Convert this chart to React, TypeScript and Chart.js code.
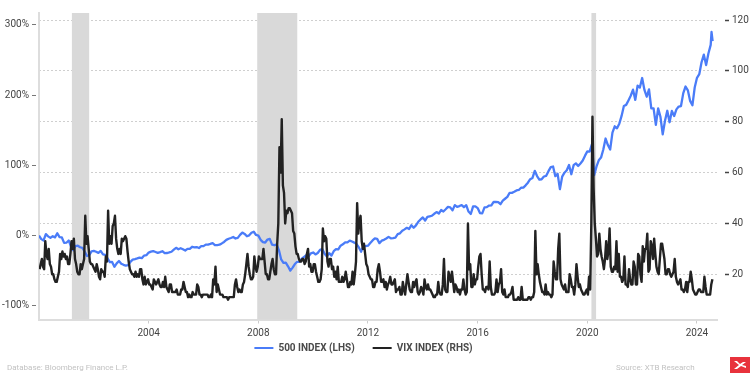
import React, { useEffect, useRef } from "react";
import { Chart, registerables } from "chart.js";

Chart.register(...registerables);

// ---------- axes / annotations ----------
const xTicks = [2004, 2008, 2012, 2016, 2020, 2024];
const leftTicks = [-100, 0, 100, 200, 300];
const rightTicks = [20, 40, 60, 80, 100, 120];
const recessionStart = [2001.2, 2007.96, 2020.15];
const recessionEnd = [2001.83, 2009.42, 2020.32];

const spxLabel = "500 INDEX (LHS)";
const vixLabel = "VIX INDEX (RHS)";

// ---------- 500 INDEX, % change since start of 2000 (month ends) ----------
const spxStartDate = 2000.0;
const spxStartValue = 0;
const spxYears = [2000, 2001, 2002, 2003, 2004, 2005, 2006, 2007, 2008, 2009, 2010, 2011, 2012, 2013, 2014, 2015, 2016, 2017, 2018, 2019, 2020, 2021, 2022, 2023, 2024];
const spx2000 = [-5.1, -7.0, 2.0, -1.2, -3.3, -1.0, -2.6, 3.3, -2.2, -2.7, -10.5, -10.2];
const spx2001 = [-7.0, -15.6, -21.0, -15.0, -14.5, -16.7, -17.6, -22.8, -29.1, -27.9, -22.5, -21.9];
const spx2002 = [-23.1, -24.7, -21.9, -26.8, -27.4, -32.6, -37.9, -37.7, -44.5, -39.7, -36.3, -40.1];
const spx2003 = [-41.7, -42.8, -42.3, -37.6, -34.4, -33.6, -32.6, -31.4, -32.2, -28.5, -28.0, -24.3];
const spx2004 = [-23.0, -22.1, -23.4, -24.7, -23.7, -22.3, -25.0, -24.9, -24.1, -23.1, -20.1, -17.5];
const spx2005 = [-19.6, -18.1, -19.6, -21.3, -18.9, -18.9, -16.0, -17.0, -16.4, -17.8, -15.0, -15.1];
const spx2006 = [-12.9, -12.8, -11.9, -10.8, -13.6, -13.6, -13.1, -11.2, -9.1, -6.2, -4.6, -3.5];
const spx2007 = [-2.1, -4.2, -3.3, 0.9, 4.2, 2.3, -1.0, 0.3, 3.9, 5.4, 0.8, -0.1];
const spx2008 = [-6.1, -9.4, -10.0, -5.7, -4.7, -12.9, -13.8, -12.7, -20.7, -34.0, -39.0, -38.5];
const spx2009 = [-43.8, -50.0, -45.7, -40.6, -37.4, -37.4, -32.8, -30.5, -28.1, -29.5, -25.4, -24.1];
const spx2010 = [-26.9, -24.9, -20.4, -19.2, -25.9, -29.8, -25.0, -28.6, -22.3, -19.5, -19.6, -14.4];
const spx2011 = [-12.5, -9.7, -9.7, -7.2, -8.5, -10.1, -12.1, -17.0, -23.0, -14.7, -15.1, -14.4];
const spx2012 = [-10.7, -7.0, -4.2, -4.8, -10.8, -7.3, -6.1, -4.2, -1.9, -3.9, -3.6, -2.9];
const spx2013 = [2.0, 3.1, 6.8, 8.8, 11.0, 9.3, 14.8, 11.1, 14.5, 19.6, 22.9, 25.8];
const spx2014 = [21.4, 26.5, 27.4, 28.2, 31.0, 33.4, 31.4, 36.3, 34.2, 37.4, 40.8, 40.1];
const spx2015 = [35.8, 43.3, 40.8, 42.0, 43.4, 40.4, 43.2, 34.2, 30.7, 41.5, 41.6, 39.1];
const spx2016 = [32.0, 31.5, 40.2, 40.5, 42.7, 42.9, 48.0, 47.8, 47.6, 44.7, 49.7, 52.4];
const spx2017 = [55.1, 60.9, 60.8, 62.3, 64.2, 64.9, 68.1, 68.3, 71.5, 75.3, 80.2, 82.0];
const spx2018 = [92.2, 84.7, 79.8, 80.2, 84.1, 85.0, 91.7, 97.5, 98.3, 84.6, 87.9, 66.0];
const spx2019 = [84.0, 89.5, 92.9, 100.5, 87.3, 100.2, 102.8, 99.1, 102.6, 106.8, 113.8, 119.9];
const spx2020 = [119.6, 130.0, 86.0, 98.2, 107.2, 111.0, 122.6, 138.2, 128.9, 122.6, 146.5, 155.6];
const spx2021 = [152.8, 159.4, 170.4, 184.6, 186.1, 192.5, 199.1, 207.8, 193.2, 213.4, 210.8, 224.4];
const spx2022 = [207.4, 197.7, 208.3, 181.2, 181.2, 157.6, 181.1, 169.2, 144.1, 163.5, 177.7, 161.4];
const spx2023 = [177.5, 170.2, 179.7, 183.8, 184.5, 202.9, 212.3, 206.8, 191.8, 185.5, 210.9, 224.7];
const spx2024 = [229.8, 246.8, 257.6, 242.8, 259.2, 271.6];
const spxTailDates = [2024.53, 2024.57];
const spxTailValues = [290, 277];
const spxByYear = [spx2000, spx2001, spx2002, spx2003, spx2004, spx2005, spx2006, spx2007, spx2008, spx2009, spx2010, spx2011, spx2012, spx2013, spx2014, spx2015, spx2016, spx2017, spx2018, spx2019, spx2020, spx2021, spx2022, spx2023, spx2024];

// ---------- VIX INDEX (two readings per month) ----------
const vixYears = spxYears;
const vix2000 = [22, 24, 26, 23, 22, 33, 28, 26, 30, 24, 23, 20, 20, 18, 17, 17, 19, 21, 28, 26, 29, 27, 28, 26];
const vix2001 = [27, 24, 24, 28, 33, 30, 34, 26, 24, 21, 20, 20, 24, 22, 24, 26, 43, 32, 35, 30, 25, 24, 24, 23];
const vix2002 = [22, 21, 24, 22, 19, 18, 22, 21, 21, 19, 27, 25, 45, 32, 35, 32, 39, 40, 43, 34, 30, 28, 30, 28];
const vix2003 = [34, 33, 34, 35, 34, 29, 25, 22, 21, 20, 20, 19, 21, 19, 20, 19, 22, 22, 18, 16, 19, 16, 17, 18];
const vix2004 = [16, 16, 15, 14, 18, 17, 16, 17, 18, 16, 15, 15, 17, 15, 19, 15, 14, 13, 16, 16, 13, 13, 13, 13];
const vix2005 = [14, 12, 12, 12, 14, 14, 17, 15, 13, 13, 11, 12, 11, 11, 13, 12, 12, 12, 16, 15, 12, 12, 11, 12];
const vix2006 = [12, 12, 12, 12, 11, 11, 12, 11, 18, 16, 23, 13, 16, 14, 12, 12, 12, 11, 11, 11, 11, 10, 11, 11];
const vix2007 = [11, 11, 11, 16, 18, 15, 13, 14, 13, 13, 16, 17, 20, 24, 28, 23, 20, 18, 18, 19, 27, 23, 21, 23];
const vix2008 = [27, 26, 26, 26, 30, 25, 20, 20, 18, 18, 21, 24, 26, 22, 20, 20, 32, 40, 70, 60, 81, 55, 52, 40];
const vix2009 = [45, 44, 46, 46, 45, 44, 37, 36, 31, 28, 28, 26, 25, 25, 26, 26, 24, 25, 28, 30, 23, 24, 21, 21];
const vix2010 = [24, 24, 21, 19, 17, 17, 18, 22, 38, 33, 35, 34, 25, 23, 26, 26, 22, 23, 19, 21, 18, 23, 17, 17];
const vix2011 = [17, 19, 17, 18, 21, 18, 15, 15, 17, 16, 21, 16, 20, 25, 48, 36, 41, 43, 33, 30, 32, 28, 24, 23];
const vix2012 = [20, 19, 18, 18, 15, 15, 17, 17, 22, 24, 21, 17, 17, 18, 15, 17, 14, 16, 17, 19, 16, 16, 17, 18];
const vix2013 = [13, 14, 14, 15, 12, 12, 17, 14, 12, 16, 20, 17, 14, 13, 13, 17, 15, 17, 18, 13, 12, 13, 15, 14];
const vix2014 = [12, 18, 15, 14, 16, 14, 14, 13, 12, 11, 11, 12, 12, 17, 13, 12, 12, 16, 26, 14, 13, 13, 21, 19];
const vix2015 = [17, 21, 17, 13, 16, 15, 13, 14, 12, 14, 14, 18, 14, 12, 13, 40, 22, 24, 15, 15, 20, 16, 18, 18];
const vix2016 = [23, 27, 28, 20, 14, 14, 13, 15, 15, 14, 25, 15, 12, 12, 12, 13, 18, 13, 16, 17, 22, 13, 12, 14];
const vix2017 = [11, 11, 11, 12, 12, 13, 15, 10, 10, 10, 10, 11, 10, 10, 15, 10, 10, 10, 10, 10, 11, 11, 10, 11];
const vix2018 = [11, 13, 37, 20, 24, 20, 17, 15, 13, 13, 12, 16, 12, 13, 12, 12, 11, 12, 25, 21, 18, 18, 30, 36];
const vix2019 = [18, 16, 15, 14, 16, 13, 13, 13, 20, 18, 15, 15, 12, 16, 24, 19, 15, 16, 14, 13, 12, 12, 13, 14];
const vix2020 = [12, 19, 14, 40, 82, 54, 40, 34, 27, 28, 36, 30, 27, 25, 22, 26, 33, 26, 29, 38, 23, 21, 21, 23];
const vix2021 = [22, 33, 21, 28, 19, 19, 17, 18, 27, 16, 16, 15, 22, 18, 16, 16, 25, 23, 16, 16, 28, 27, 20, 17];
const vix2022 = [31, 25, 30, 30, 36, 21, 22, 33, 31, 26, 34, 28, 23, 21, 20, 26, 32, 32, 29, 26, 20, 20, 22, 22];
const vix2023 = [20, 19, 20, 21, 26, 19, 17, 16, 17, 18, 14, 14, 13, 14, 17, 13, 17, 17, 21, 18, 14, 13, 12, 12];
const vix2024 = [13, 14, 14, 13, 13, 13, 19, 15, 12, 12, 12, 12, 16, 18];
const vixByYear = [vix2000, vix2001, vix2002, vix2003, vix2004, vix2005, vix2006, vix2007, vix2008, vix2009, vix2010, vix2011, vix2012, vix2013, vix2014, vix2015, vix2016, vix2017, vix2018, vix2019, vix2020, vix2021, vix2022, vix2023, vix2024];

const footerLeft = "Database: Bloomberg Finance L.P.";
const footerRight = "Source: XTB Research";

const FONT = "Roboto, 'Noto Sans', sans-serif";

function buildSpx() {
  const pts: { x: number; y: number }[] = [{ x: spxStartDate, y: spxStartValue }];
  spxYears.forEach((yr, i) => spxByYear[i].forEach((v, m) => pts.push({ x: yr + (m + 1) / 12, y: v })));
  spxTailDates.forEach((d, i) => pts.push({ x: d, y: spxTailValues[i] }));
  return pts;
}

function buildVix() {
  const pts: { x: number; y: number }[] = [];
  vixYears.forEach((yr, i) => vixByYear[i].forEach((v, k) => pts.push({ x: yr + (k + 0.5) / 24, y: v })));
  return pts;
}

const bandsPlugin = {
  id: "recessionBands",
  beforeDatasetsDraw(chart: any) {
    const { ctx, chartArea, scales } = chart;
    ctx.save();
    ctx.fillStyle = "#d9d9d9";
    recessionStart.forEach((s, i) => {
      const x1 = scales.x.getPixelForValue(s);
      const x2 = scales.x.getPixelForValue(recessionEnd[i]);
      ctx.fillRect(x1, chartArea.top, x2 - x1, chartArea.bottom - chartArea.top);
    });
    ctx.restore();
  },
};

// nudges the legend box so it sits where the reference puts it
const legendNudge = {
  id: "legendNudge",
  afterLayout(chart: any) {
    const lg = chart.legend;
    if (!lg) return;
    lg.left -= 14.5;
    lg.right -= 14.5;
    lg.top -= 14.5;
    lg.bottom -= 14.5;
  },
};

export default function App() {
  const ref = useRef<HTMLCanvasElement | null>(null);

  useEffect(() => {
    if (!ref.current) return;
    const tickFont = { family: FONT, size: 10 };
    const chart = new Chart(ref.current, {
      type: "line",
      data: {
        datasets: [
          {
            label: spxLabel,
            data: buildSpx(),
            yAxisID: "y",
            borderColor: "#4a7cf8",
            backgroundColor: "#4a7cf8",
            borderWidth: 2.3,
            pointRadius: 0,
            tension: 0,
            borderJoinStyle: "round",
            order: 2,
          },
          {
            label: vixLabel,
            data: buildVix(),
            yAxisID: "y1",
            borderColor: "#222222",
            backgroundColor: "#222222",
            borderWidth: 2.4,
            pointRadius: 0,
            tension: 0,
            borderJoinStyle: "round",
            order: 1,
          },
        ],
      },
      options: {
        animation: false,
        responsive: false,
        maintainAspectRatio: false,
        parsing: false,
        normalized: true,
        layout: { padding: { top: 13, right: 0, bottom: 4.5, left: 0 } },
        plugins: {
          tooltip: { enabled: false },
          legend: {
            position: "bottom",
            labels: {
              boxWidth: 19,
              boxHeight: 2,
              padding: 18,
              color: "#4a4a4a",
              font: { family: FONT, size: 10, weight: "bold" },
              generateLabels: (c: any) =>
                Chart.defaults.plugins.legend.labels
                  .generateLabels(c)
                  .sort((a: any, b: any) => a.datasetIndex - b.datasetIndex)
                  .map((l: any) => ({ ...l, lineWidth: 0, fillStyle: l.strokeStyle })),
            },
          },
        },
        scales: {
          x: {
            type: "linear",
            min: 2000,
            max: 2024.73,
            afterBuildTicks: (ax: any) => {
              ax.ticks = xTicks.map((v) => ({ value: v }));
            },
            afterFit: (s: any) => {
              s.height = 20;
            },
            ticks: {
              callback: (v: any) => String(v),
              color: "#444",
              font: tickFont,
              maxRotation: 0,
              autoSkip: false,
              padding: 4,
            },
            grid: { drawOnChartArea: false, drawTicks: true, tickLength: 4, color: "#cccccc" },
            border: { display: true, color: "#dddddd", width: 2 },
          },
          y: {
            position: "left",
            min: -119.6,
            max: 317,
            afterBuildTicks: (ax: any) => {
              ax.ticks = leftTicks.map((v) => ({ value: v }));
            },
            afterFit: (s: any) => {
              s.width = 39;
            },
            ticks: { callback: (v: any) => `${v}%`, color: "#444", font: tickFont, padding: 3 },
            grid: {
              drawOnChartArea: false,
              drawTicks: true,
              tickLength: 7,
              tickColor: "#777",
              tickWidth: 1,
              tickBorderDash: [4, 10],
            },
            border: { display: true, color: "#dddddd", width: 2 },
          },
          y1: {
            position: "right",
            min: 2.2,
            max: 122.8,
            afterBuildTicks: (ax: any) => {
              ax.ticks = rightTicks.map((v) => ({ value: v }));
            },
            afterFit: (s: any) => {
              s.width = 39;
            },
            ticks: { color: "#444", font: tickFont, padding: 3 },
            grid: {
              drawOnChartArea: true,
              drawTicks: true,
              tickLength: 12,
              color: "#cfcfcf",
              tickColor: "#444",
              tickWidth: 1.5,
              tickBorderDash: [0, 8, 4, 10],
            },
            border: { display: false, dash: [2, 2] },
          },
        },
      } as any,
      plugins: [bandsPlugin, legendNudge],
    });
    return () => chart.destroy();
  }, []);

  return (
    <div style={{ position: "absolute", left: 0, top: 0, width: 756, height: 382, background: "#fff", fontFamily: FONT }}>
      <canvas ref={ref} width={756} height={382} style={{ width: 756, height: 382, display: "block" }} />
      <div style={{ position: "absolute", left: 7, top: 362, fontSize: 8, color: "#c2c2c2", lineHeight: "12px", whiteSpace: "nowrap" }}>
        {footerLeft}
      </div>
      <div style={{ position: "absolute", left: 616, top: 362, fontSize: 8, color: "#c2c2c2", lineHeight: "12px", whiteSpace: "nowrap" }}>
        {footerRight}
      </div>
      <svg style={{ position: "absolute", left: 730, top: 357 }} width={20} height={16} viewBox="0 0 20 16">
        <rect x={0} y={0} width={20} height={16} fill="#e8323c" />
        <path d="M4 4 L9 8 L4 12 L7 12 L11 9 L16 11 L16 9 L12 8 L16 5 L13 5 L10 7 L7 4 Z" fill="#ffffff" />
      </svg>
    </div>
  );
}
